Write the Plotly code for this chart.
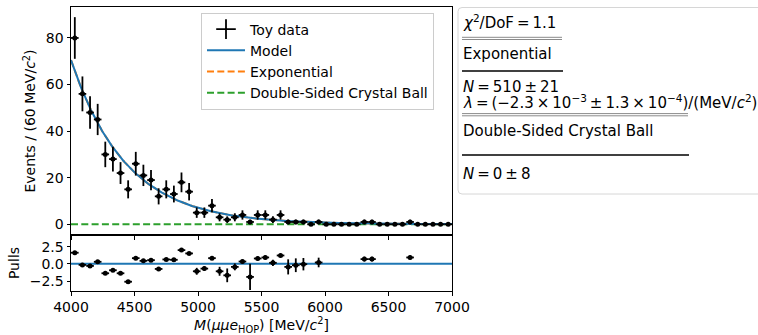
import numpy as np
import plotly.graph_objects as go

# ---------------- data ----------------
bin_centers = [4030 + 60 * i for i in range(50)]
counts = [80, 56, 48, 45, 30, 28, 22, 15, 26, 21,
          19, 12, 15, 13, 18, 14, 5, 5, 8, 3,
          2, 3, 4, 1, 4, 4, 2, 4, 1, 1,
          1, 0, 1, 0, 0, 0, 0, 0, 1, 1,
          0, 0, 0, 0, 1, 0, 0, 0, 0, 0]

pull_x = [4030, 4090, 4150, 4210, 4270, 4330, 4390, 4450, 4510, 4570,
          4630, 4690, 4750, 4810, 4870, 4930, 4990, 5050, 5110, 5170,
          5230, 5290, 5350, 5410, 5470, 5530, 5590, 5650, 5710, 5770,
          5830, 5950, 6310, 6370, 6670]
pull_val = [1.62, -0.15, -0.30, 0.30, -1.37, -0.93, -1.37, -2.60, 0.83, 0.44,
            0.54, -0.74, 0.64, 0.59, 2.00, 1.52, -1.08, -0.69, 0.83, -1.08,
            -1.67, -0.44, 0.34, -1.90, 0.78, 0.93, 0.15, 1.22, -0.44, -0.20,
            -0.05, 0.20, 0.69, 0.69, 0.93]
pull_err = [0.10, 0.10, 0.10, 0.10, 0.10, 0.10, 0.12, 0.15, 0.12, 0.12,
            0.13, 0.20, 0.15, 0.18, 0.15, 0.17, 0.50, 0.35, 0.25, 0.65,
            1.00, 0.50, 0.30, 1.90, 0.30, 0.30, 0.45, 0.25, 1.10, 1.00,
            0.90, 0.70, 0.35, 0.35, 0.30]

# fit results (shown in the text box)
N_EXP = 510
LAMBDA = -2.3e-3   # per MeV/c^2
N_DSCB = 0
BIN_WIDTH = 60
X_MIN, X_MAX = 4000, 7000

x_ticks = [4000, 4500, 5000, 5500, 6000, 6500, 7000]
y_ticks = [0, 20, 40, 60, 80]
pull_ticks = [-2.5, 0.0, 2.5]

# ---------------- model ----------------
xm = np.linspace(X_MIN, X_MAX, 401)
norm = LAMBDA / (np.exp(LAMBDA * (X_MAX - X_MIN)) - 1.0)
exp_curve = N_EXP * BIN_WIDTH * norm * np.exp(LAMBDA * (xm - X_MIN))
dscb_curve = N_DSCB * np.ones_like(xm)
model_curve = exp_curve + dscb_curve

# ---------------- figure ----------------
FONT = "DejaVu Sans"
FS = 14
FS_BOX = 15
BLUE, ORANGE, GREEN = "#1f77b4", "#ff7f0e", "#2ca02c"

fig = go.Figure()

fig.add_trace(go.Scatter(x=xm, y=exp_curve, mode="lines", name="Exponential",
                         line=dict(color=ORANGE, width=2, dash="7px,3.3px"),
                         legendrank=3, xaxis="x", yaxis="y"))
fig.add_trace(go.Scatter(x=xm, y=dscb_curve, mode="lines", name="Double-Sided Crystal Ball",
                         line=dict(color=GREEN, width=2, dash="7px,3.3px"),
                         legendrank=4, xaxis="x", yaxis="y"))
fig.add_trace(go.Scatter(x=xm, y=model_curve, mode="lines", name="Model",
                         line=dict(color=BLUE, width=2),
                         legendrank=2, xaxis="x", yaxis="y"))
fig.add_trace(go.Scatter(x=bin_centers, y=counts, mode="markers", name="Toy data",
                         marker=dict(color="black", size=5),
                         error_y=dict(type="data", array=list(np.sqrt(counts)), color="black",
                                      thickness=1.8, width=0),
                         error_x=dict(type="constant", value=BIN_WIDTH / 2, color="black",
                                      thickness=1.8, width=0),
                         showlegend=False, xaxis="x", yaxis="y"))
# legend entry for the data (errorbar-like cross)
fig.add_trace(go.Scatter(x=[None], y=[None], mode="markers", name="Toy data",
                         marker=dict(symbol="cross-thin", size=14, color="black",
                                     line=dict(color="black", width=1.8)),
                         legendrank=1, xaxis="x", yaxis="y"))

fig.add_trace(go.Scatter(x=pull_x, y=pull_val, mode="markers", name="pulls",
                         marker=dict(color="black", size=5),
                         error_y=dict(type="data", array=pull_err, color="black",
                                      thickness=1.8, width=0),
                         error_x=dict(type="constant", value=BIN_WIDTH / 2, color="black",
                                      thickness=1.8, width=0),
                         showlegend=False, xaxis="x2", yaxis="y2"))

W, H = 758, 335
ML, MT, MB = 71, 7, 44
PW = W - ML          # paper width (right margin 0)
PH = H - MT - MB     # paper height
PLOT_R = 452


def px(x):
    return (x - ML) / PW


def py(y):
    return 1 - (y - MT) / PH


x_dom = [0, px(PLOT_R)]
split = py(235)

axis_common = dict(showline=True, linecolor="black", linewidth=1, mirror=True,
                   ticks="outside", ticklen=3.5, tickwidth=0.9, tickcolor="black",
                   showgrid=False, zeroline=False,
                   tickfont=dict(family=FONT, size=FS, color="black"))

fig.update_layout(
    width=W, height=H,
    margin=dict(l=ML, r=0, t=MT, b=MB, autoexpand=False),
    paper_bgcolor="white", plot_bgcolor="white",
    font=dict(family=FONT, size=FS, color="black"),
    xaxis=dict(domain=x_dom, anchor="y", range=[X_MIN, X_MAX], matches="x2",
               tickvals=x_ticks, showticklabels=False, **axis_common),
    yaxis=dict(domain=[split, 1], anchor="x", range=[-4.6, 93.3], tickvals=y_ticks,
               title=dict(text="Events / (60 MeV/<i>c</i><sup>2</sup>)", standoff=6,
                          font=dict(family=FONT, size=FS)),
               **axis_common),
    xaxis2=dict(domain=x_dom, anchor="y2", range=[X_MIN, X_MAX], tickvals=x_ticks,
                title=dict(text="<i>M</i>(<i>μμe</i><sub>HOP</sub>) [MeV/<i>c</i><sup>2</sup>]",
                           standoff=2, font=dict(family=FONT, size=FS)),
                **axis_common),
    yaxis2=dict(domain=[0, split], anchor="x2", range=[-3.95, 4.2], tickvals=pull_ticks,
                tickformat=".1f",
                title=dict(text="Pulls", standoff=6, font=dict(family=FONT, size=FS)),
                **axis_common),
    legend=dict(x=px(201), y=py(12.5), xanchor="left", yanchor="top",
                bgcolor="rgba(255,255,255,0.8)", bordercolor="#cccccc", borderwidth=1,
                font=dict(family=FONT, size=FS, color="black"),
                itemwidth=38, tracegroupgap=0),
    showlegend=True,
)

# zero line in the pulls panel
fig.add_shape(type="line", xref="x2 domain", yref="y2", x0=0, x1=1, y0=0, y1=0,
              line=dict(color=BLUE, width=2), layer="below")

# ---------------- text box ----------------
bx0, bx1, by0, by1, r = 458, 800, 7.5, 194, 4
path = (f"M {px(bx0 + r)},{py(by0)} L {px(bx1)},{py(by0)} L {px(bx1)},{py(by1)} "
        f"L {px(bx0 + r)},{py(by1)} Q {px(bx0)},{py(by1)} {px(bx0)},{py(by1 - r)} "
        f"L {px(bx0)},{py(by0 + r)} Q {px(bx0)},{py(by0)} {px(bx0 + r)},{py(by0)} Z")
fig.add_shape(type="path", xref="paper", yref="paper", path=path,
              line=dict(color="#d6d6d6", width=1), fillcolor="white", layer="below")

TS = "\u2009"  # thin space, like mathtext operator spacing
text_rows = [
    (f"<i>χ</i><sup>2</sup>/DoF{TS}={TS}1.1", 22),
    ("Exponential", 53.5),
    (f"<i>N</i>{TS}={TS}510{TS}±{TS}21", 86.5),
    (f"<i>λ</i>{TS}={TS}(−2.3{TS}×{TS}10<sup>−3</sup>{TS}±{TS}1.3{TS}×{TS}10<sup>−4</sup>)"
     f"/(MeV/<i>c</i><sup>2</sup>)", 101.5),
    ("Double-Sided Crystal Ball", 130.5),
    (f"<i>N</i>{TS}={TS}0{TS}±{TS}8", 174),
]
for txt, yy in text_rows:
    fig.add_annotation(xref="paper", yref="paper", x=px(461), y=py(yy), text=txt,
                       showarrow=False, xanchor="left", yanchor="middle",
                       font=dict(family=FONT, size=FS_BOX, color="black"))

# separators: double grey lines and single black lines
for (x0, x1, yy) in [(462, 562, 37.3), (462, 562, 39.5), (462, 688, 113.6), (462, 688, 115.8)]:
    fig.add_shape(type="line", xref="paper", yref="paper", x0=px(x0), x1=px(x1),
                  y0=py(yy), y1=py(yy), line=dict(color="#8a8a8a", width=1))
for (x0, x1, yy) in [(462, 563, 71), (462, 689, 155)]:
    fig.add_shape(type="line", xref="paper", yref="paper", x0=px(x0), x1=px(x1),
                  y0=py(yy), y1=py(yy), line=dict(color="black", width=1.5))

fig.write_html("out.html")
